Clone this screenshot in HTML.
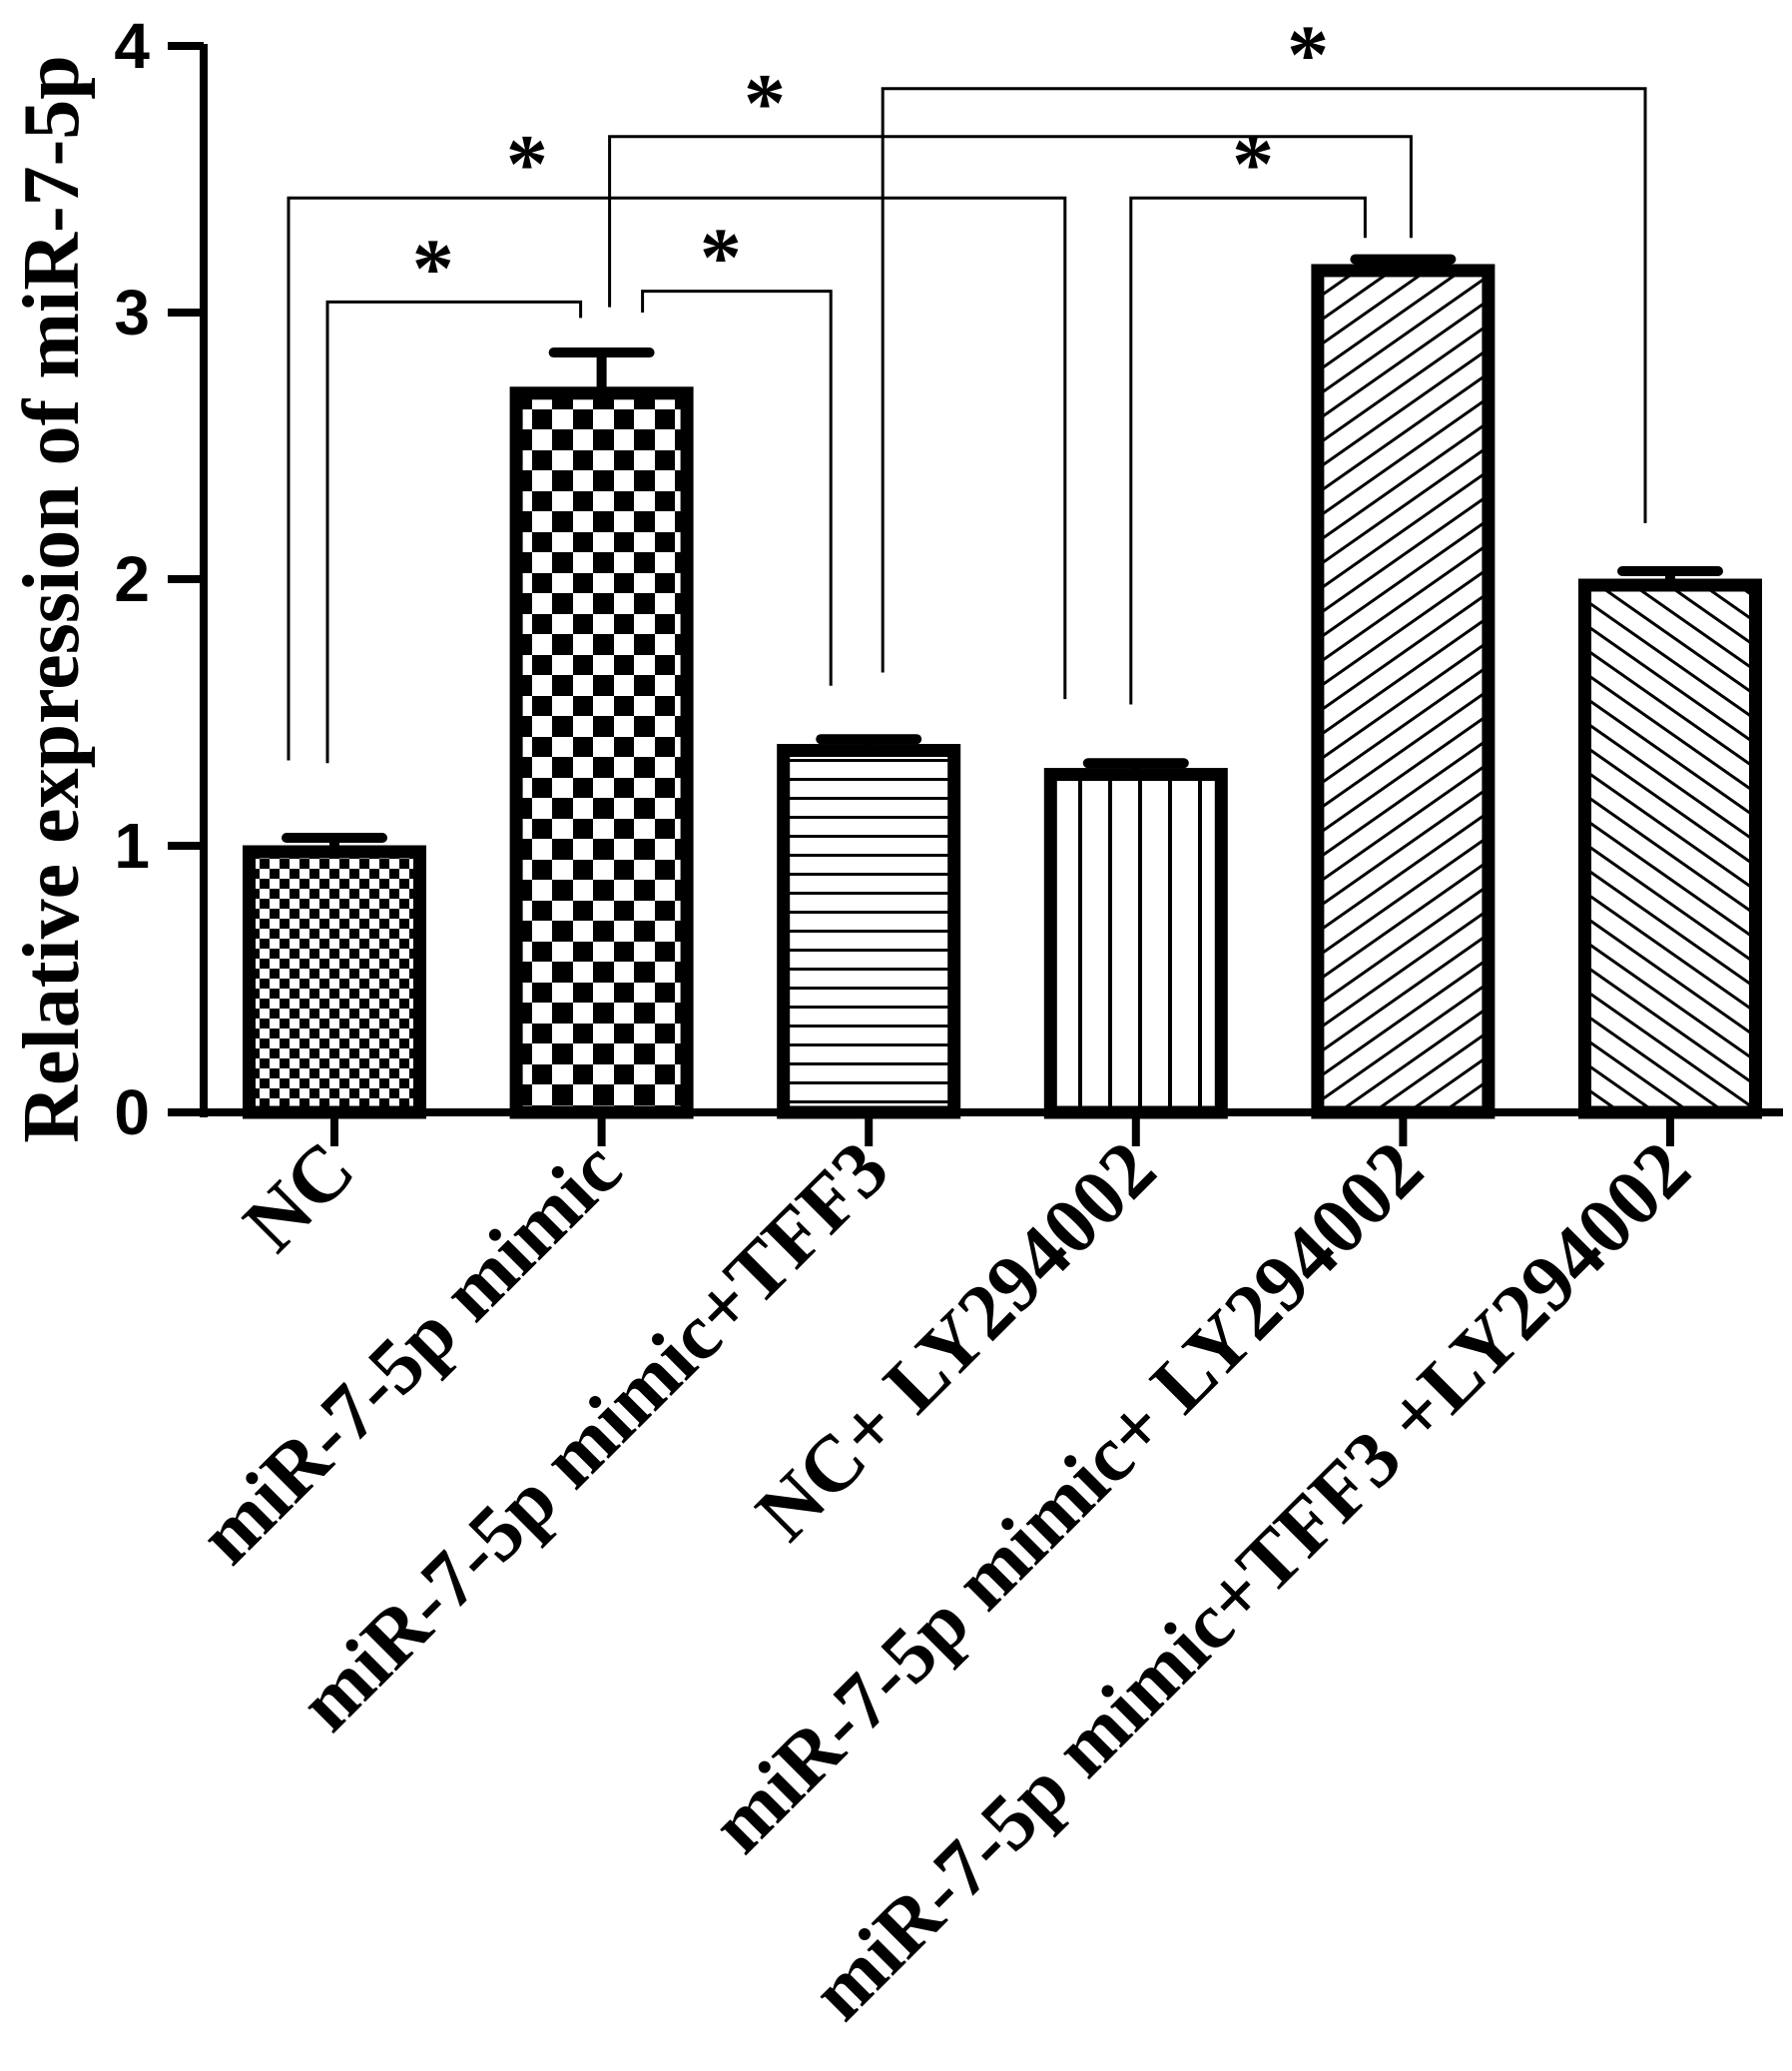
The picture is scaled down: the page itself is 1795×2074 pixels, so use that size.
<!DOCTYPE html>
<html><head><meta charset="utf-8"><style>
html,body{margin:0;padding:0;background:#fff;}
svg{display:block;}
</style></head><body>
<svg id="chart" width="1795" height="2074" viewBox="0 0 1795 2074" xmlns="http://www.w3.org/2000/svg">
<defs>
<pattern id="p0" patternUnits="userSpaceOnUse" width="20" height="20" x="0" y="0"><rect width="20" height="20" fill="#fff"/><rect x="0" y="0" width="10" height="10" fill="#000"/><rect x="10" y="10" width="10" height="10" fill="#000"/></pattern>
<pattern id="p1" patternUnits="userSpaceOnUse" width="41" height="41"><rect width="41" height="41" fill="#fff"/><rect x="0" y="0" width="20" height="20" fill="#000"/><rect x="20" y="20" width="21" height="21" fill="#000"/></pattern>
<pattern id="p2" patternUnits="userSpaceOnUse" width="19" height="19"><rect width="19" height="19" fill="#fff"/><rect x="0" y="0" width="19" height="3" fill="#000"/></pattern>
<pattern id="p3" patternUnits="userSpaceOnUse" width="30" height="30"><rect width="30" height="30" fill="#fff"/><rect x="0" y="0" width="4" height="30" fill="#000"/></pattern>
<pattern id="p4" patternUnits="userSpaceOnUse" width="20" height="20" patternTransform="rotate(-35)"><rect width="20" height="20" fill="#fff"/><rect x="0" y="0" width="20" height="3" fill="#000"/></pattern>
<pattern id="p5" patternUnits="userSpaceOnUse" width="20" height="20" patternTransform="rotate(35)"><rect width="20" height="20" fill="#fff"/><rect x="0" y="0" width="20" height="3" fill="#000"/></pattern>
</defs>
<g id="plot"></g>
</svg>
<script>
const categories = ["NC","miR-7-5p mimic","miR-7-5p mimic+TFF3","NC+ LY294002","miR-7-5p mimic+ LY294002","miR-7-5p mimic+TFF3 +LY294002"];
const values = [1.0, 2.72, 1.38, 1.29, 3.18, 2.0];
const errors = [0.03, 0.13, 0.02, 0.02, 0.02, 0.03];
const yTicks = [0,1,2,3,4];
const yTickLabels = ["0","1","2","3","4"];
// significance brackets: [catA, catB, topValue, leftEndValue, rightEndValue]
const brackets = [
  [0,1,3.04,1.31,2.98],
  [1,2,3.08,3.00,1.60],
  [0,3,3.43,1.32,1.55],
  [1,4,3.66,3.02,3.28],
  [2,5,3.84,1.65,2.21],
  [3,4,3.43,1.53,3.28]
];
const NS="http://www.w3.org/2000/svg";
const g=document.getElementById('plot');
const y0=1114, unit=267;
function y(v){return y0-v*unit;}
function x(i){return 335+i*267.6;}
const barW=183;
// bracket leg offsets and star offsets (layout, px)
const legOff=[[-7,-21],[41,-38],[-46,-71],[8,8],[14,-25],[-5,-38]];
const starOff=[-21,-16,-150,-246,44,5];
function mk(tag,attrs){const e=document.createElementNS(NS,tag);for(const k in attrs)e.setAttribute(k,attrs[k]);g.appendChild(e);return e;}

let ax=mk('line',{x1:204,y1:y(4)-2,x2:204,y2:y0+5,stroke:'#000','stroke-width':8});


yTicks.forEach((t,k)=>{
  let tl=mk('line',{x1:168,y1:y(t),x2:204,y2:y(t),stroke:'#000','stroke-width':8});
  
  
  let tx=mk('text',{x:150,y:y(t)+22,'text-anchor':'end','font-family':'Liberation Sans, sans-serif','font-weight':'bold','font-size':64});
  tx.textContent=yTickLabels[k];
  
  
});
let xa=mk('line',{x1:168,y1:y0,x2:1786,y2:y0,stroke:'#000','stroke-width':8});


let yt=mk('text',{x:0,y:0,transform:'translate(78,600) rotate(-90)','text-anchor':'middle','font-family':'Liberation Serif, serif','font-size':80,'font-weight':'bold'});
yt.textContent='Relative expression of miR-7-5p';



categories.forEach((c,i)=>{
  const cx=x(i), top=y(values[i]);
  let r=mk('rect',{x:cx-barW/2+6,y:top+6,width:barW-12,height:y0-top-6,fill:'url(#p'+i+')',stroke:'#000','stroke-width':13});
  
  
  let e=mk('line',{x1:cx,y1:top,x2:cx,y2:y(values[i]+errors[i]),stroke:'#000','stroke-width':10});
  
  
  let ec=mk('line',{x1:cx-48,y1:y(values[i]+errors[i]),x2:cx+48,y2:y(values[i]+errors[i]),stroke:'#000','stroke-width':10,'stroke-linecap':'round'});
  
  
  let tk=mk('line',{x1:cx,y1:y0,x2:cx,y2:y0+34,stroke:'#000','stroke-width':8});
  
  
  let lb=mk('text',{x:0,y:0,transform:'translate('+(cx+24)+','+(y0+62)+') rotate(-45)','text-anchor':'end','font-family':'Liberation Serif, serif','font-weight':'bold','font-size':80});
  lb.textContent=c;
  
  
});

brackets.forEach((b,k)=>{
  const xa=x(b[0])+legOff[k][0], xb=x(b[1])+legOff[k][1];
  let p=mk('path',{d:'M'+xa+','+y(b[3])+' L'+xa+','+y(b[2])+' L'+xb+','+y(b[2])+' L'+xb+','+y(b[4]),fill:'none',stroke:'#000','stroke-width':3});
  
  
  let s=mk('text',{x:(xa+xb)/2+starOff[k],y:y(b[2])-6,'text-anchor':'middle','font-family':'Liberation Serif, serif','font-weight':'bold','font-size':84});
  s.textContent='*';
  
  
});
</script>
</body></html>
